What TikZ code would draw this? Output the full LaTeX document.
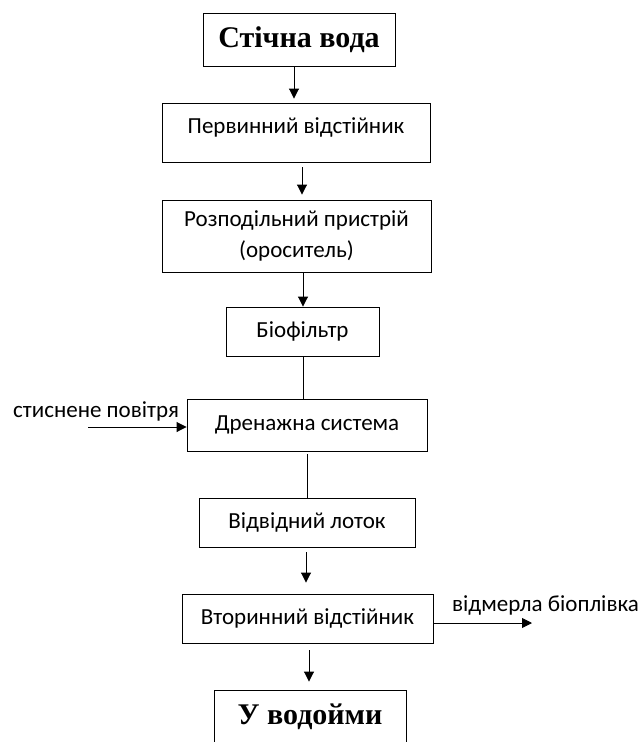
\documentclass[tikz,border=0pt]{standalone}
\usepackage{fontspec}
\setmainfont{Carlito}
\newfontfamily\headfont{Liberation Serif}
\usetikzlibrary{arrows.meta}

\tikzset{
  box/.style={draw, line width=0.9pt, inner sep=0pt, align=center,
    font=\fontsize{23}{31}\selectfont},
  headbox/.style={draw, line width=0.9pt, inner sep=0pt,
    font=\headfont\bfseries\fontsize{30}{34}\selectfont},
  flow/.style={line width=0.9pt, -{Triangle[length=10pt,width=10pt]}},
  link/.style={line width=0.9pt},
  side/.style={font=\fontsize{23}{26}\selectfont, inner sep=0pt}
}

\begin{document}
\begin{tikzpicture}[x=1pt,y=-1pt]
  \useasboundingbox (0,0) rectangle (639,742);
  \clip (0,0) rectangle (639,742);

  % process stages, top to bottom
  \node[headbox, minimum width=192pt, minimum height=53pt] (src) at (299,39.5) {Стічна вода};
  \node[box, minimum width=268pt, minimum height=59pt, text height=16pt, text depth=15pt] (prim) at (296,132.5) {Первинний відстійник};
  \node[box, minimum width=269pt, minimum height=72pt] (dist) at (296.5,236) {Розподільний пристрій\\(ороситель)};
  \node[box, minimum width=153pt, minimum height=49pt] (bio) at (302.5,331.5) {Біофільтр};
  \node[box, minimum width=240pt, minimum height=52pt] (drain) at (307,425) {Дренажна система};
  \node[box, minimum width=216pt, minimum height=49pt] (tray) at (307,522.5) {Відвідний лоток};
  \node[box, minimum width=251pt, minimum height=49pt] (sec) at (307.5,618.5) {Вторинний відстійник};
  \node[headbox, minimum width=192pt, minimum height=53pt] (sink) at (310,716.5) {У водойми};

  % side inputs and outputs
  \node[side, anchor=west] (airlbl) at (13,411) {стиснене повітря};
  \coordinate (airin) at (88,427);
  \node[side, anchor=west] (bflbl) at (452,605) {відмерла біоплівка};
  \coordinate (bfout) at (532,623);

  % connectors
  \draw[flow, shorten >=4pt] ([xshift=-5pt]src.south) -- ([xshift=-5pt]src.south |- prim.north);
  \draw[flow, shorten <=5pt, shorten >=5pt] ([xshift=6pt]prim.south) -- ([xshift=6pt]prim.south |- dist.north);
  \draw[flow] ([xshift=6.5pt]dist.south) -- ([xshift=6.5pt]dist.south |- bio.north);
  \draw[link] ([xshift=0.5pt]bio.south) -- ([xshift=0.5pt]bio.south |- drain.north);
  \draw[link, shorten <=3pt] (drain.south) -- (drain.south |- tray.north);
  \draw[flow, shorten <=5pt, shorten >=11pt] ([xshift=-1pt]tray.south) -- ([xshift=-1pt]tray.south |- sec.north);
  \draw[flow, shorten <=7pt, shorten >=8pt] ([xshift=1.5pt]sec.south) -- ([xshift=1.5pt]sec.south |- sink.north);
  \draw[flow] (airin) -- (airin -| drain.west);
  \draw[flow] ([yshift=-4.5pt]sec.east) -- (bfout);
\end{tikzpicture}
\end{document}
